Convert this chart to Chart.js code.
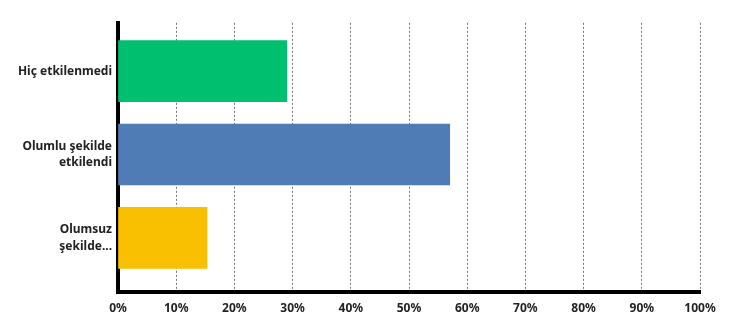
<!DOCTYPE html>
<html>
<head>
<meta charset="utf-8">
<script src="https://cdn.jsdelivr.net/npm/chart.js@4/dist/chart.umd.min.js"></script>
<style>
  html, body { margin: 0; padding: 0; background: #fff; }
  #wrap { width: 750px; height: 326px; }
</style>
</head>
<body>
<div id="wrap"><canvas id="answersChart"></canvas></div>
<script>
var categories = [
    ['Hiç etkilenmedi'],
    ['Olumlu şekilde', 'etkilendi'],
    ['Olumsuz', 'şekilde...']
];
var shares = [29, 57, 15.3];
var barColors = ['#00bf6f', '#507cb6', '#f8c000'];
var tickStep = 10;

// bars sit on a numeric index axis so the gap above/below can differ
var points = shares.map(function (v, i) { return { x: v, y: i }; });

var ctx = document.getElementById('answersChart').getContext('2d');
var answersChart = new Chart(ctx, {
    type: 'bar',
    data: {
        datasets: [{
            data: points,
            backgroundColor: barColors,
            borderWidth: 0,
            barThickness: 61
        }]
    },
    options: {
        indexAxis: 'y',
        responsive: true,
        maintainAspectRatio: false,
        animation: false,
        layout: { padding: { top: 22, right: 50, bottom: 0, left: 0 } },
        plugins: {
            legend: { display: false },
            tooltip: { enabled: false }
        },
        scales: {
            x: {
                type: 'linear',
                min: 0,
                max: 100,
                ticks: {
                    stepSize: tickStep,
                    padding: 9,
                    color: '#222',
                    font: { family: 'Noto Sans', size: 12, weight: 'bold' },
                    callback: function (v) { return v + '%'; }
                },
                grid: {
                    color: '#777',
                    lineWidth: 1,
                    drawTicks: false
                },
                border: { display: true, color: '#000', width: 4, dash: [2, 2] },
                afterFit: function (scale) { scale.height = 34; }
            },
            y: {
                type: 'linear',
                reverse: true,
                offset: false,
                min: -0.58,
                max: 2.65,
                afterBuildTicks: function (scale) {
                    scale.ticks = categories.map(function (c, i) { return { value: i }; });
                },
                ticks: {
                    padding: 6,
                    color: '#222',
                    font: { family: 'Noto Sans', size: 12, weight: 'bold', lineHeight: 1.4 },
                    callback: function (v) { return categories[v]; }
                },
                grid: { display: false, drawTicks: false, offset: false },
                border: { display: true, color: '#000', width: 4 },
                afterFit: function (scale) { scale.width = 118; }
            }
        }
    }
});
</script>
</body>
</html>
